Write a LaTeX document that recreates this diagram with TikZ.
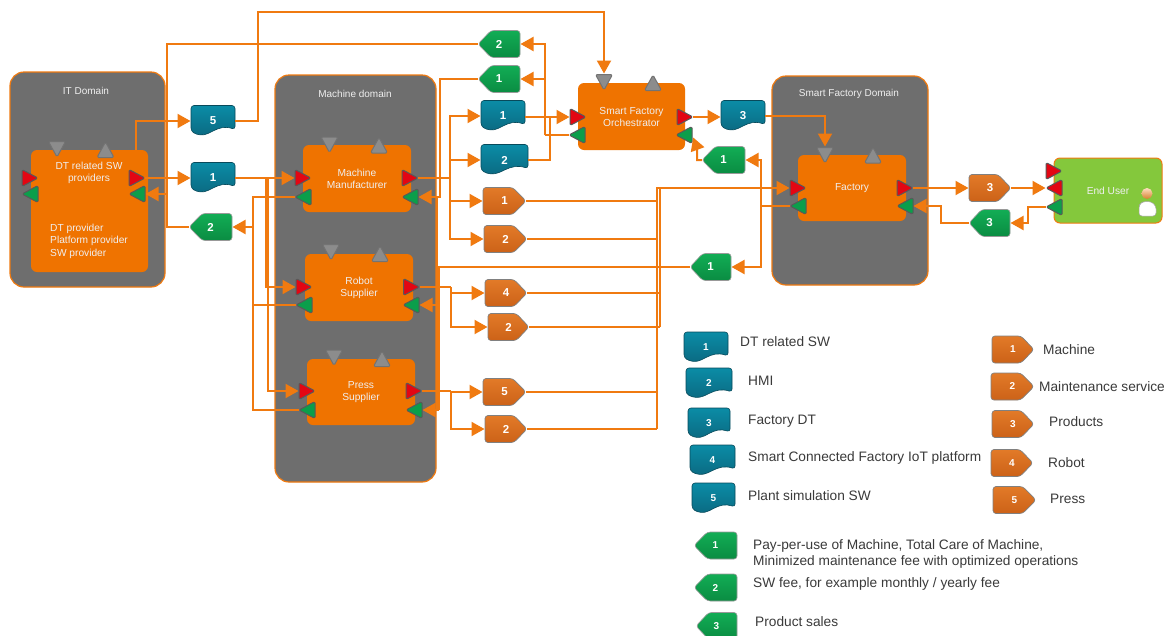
\documentclass[tikz,border=0pt]{standalone}
\usepackage{fontspec}
\setmainfont{Liberation Sans}
\usetikzlibrary{arrows.meta}
\definecolor{wireC}{HTML}{F07A10}
\definecolor{domC}{HTML}{6E6E6E}
\definecolor{boxC}{HTML}{EF7300}
\definecolor{txtC}{HTML}{EFEFEF}
\definecolor{legC}{HTML}{3A3A3A}
\definecolor{euC}{HTML}{84C83C}
\definecolor{triG}{HTML}{0B9E4B}
\definecolor{triR}{HTML}{E30613}
\definecolor{triK}{HTML}{8C8C8C}
\definecolor{tealT}{HTML}{0B8CA6}
\definecolor{tealB}{HTML}{0B6A82}
\definecolor{feeT}{HTML}{12AD55}
\definecolor{feeB}{HTML}{0A8C42}
\definecolor{goT}{HTML}{E27A28}
\definecolor{goB}{HTML}{CC6218}
\tikzset{
  wire/.style={draw=wireC,line width=2pt,line join=miter},
  flow/.style={wire,-{Triangle[length=13pt,width=14pt]},shorten >=0.5pt},
  domainbox/.style={draw=wireC,line width=1.2pt,fill=domC,rounded corners=14pt,inner sep=0pt,outer sep=0pt},
  rolebox/.style={fill=boxC,rounded corners=6pt,inner sep=0pt,outer sep=0pt},
  enduserbox/.style={draw=wireC,line width=1pt,fill=euC,rounded corners=6pt,inner sep=0pt,outer sep=0pt},
  title/.style={text=txtC,font=\fontsize{10}{12}\selectfont,align=center,inner sep=0pt},
  roletext/.style={text=txtC,font=\fontsize{10.2}{12}\selectfont,align=center,inner sep=0pt},
  roleleft/.style={text=txtC,font=\fontsize{10.2}{12.5}\selectfont,align=left,inner sep=0pt,anchor=west},
  legtext/.style={text=legC,font=\fontsize{13.7}{16}\selectfont,align=left,inner sep=0pt,anchor=west},
  numfont/.style={text=white,font=\bfseries\fontsize{11.5}{12}\selectfont},
  anchorbox/.style={inner sep=0pt,outer sep=0pt,minimum width=16pt,minimum height=16pt},
  shapebox/.style={numfont,inner sep=0pt,outer sep=0pt,minimum height=27pt},
  tri/.style={draw=black!65,line width=1pt,rounded corners=1.5pt,line join=round},
  tred/.style={tri,fill=triR},
  tgreen/.style={tri,fill=triG},
  tgrey/.style={tri,draw=black!55,fill=triK},
  docshape/.style={draw=tealB!70!black,line width=.6pt,top color=tealT,bottom color=tealB,rounded corners=3pt},
  feeshape/.style={draw=black!40,line width=.6pt,top color=feeT,bottom color=feeB,rounded corners=3pt},
  goodshape/.style={draw=black!50,line width=.7pt,top color=goT,bottom color=goB,rounded corners=3pt},
}
% name, x, y, width, label
\newcommand{\docnode}[5]{%
  \path[docshape,shift={(#2,#3)},xscale=#4/44]
    (-22,-15.5) -- (22,-15.5) -- (22,8.5)
    .. controls (12,5) and (6,7) .. (-2,11)
    .. controls (-10,15) and (-16,14) .. (-22,10) -- cycle;
  \node[shapebox,minimum width=#4pt] (#1) at (#2,#3) {#5};}
\newcommand{\feenode}[5]{%
  \path[feeshape,shift={(#2,#3)},xscale=#4/42]
    (21,-13.5) -- (-8,-13.5) -- (-21,0) -- (-8,13.5) -- (21,13.5) -- cycle;
  \node[shapebox,minimum width=#4pt] (#1) at (#2,#3) {#5};}
\newcommand{\goodnode}[5]{%
  \path[goodshape,shift={(#2,#3)},xscale=#4/42]
    (-21,-13.5) -- (8,-13.5) -- (21,0) -- (8,13.5) -- (-21,13.5) -- cycle;
  \node[shapebox,minimum width=#4pt] (#1) at (#2,#3) {#5};}
\newcommand{\triRt}[4]{\path[#1,shift={(#3,#4)}] (-8,-8.5) -- (8,0) -- (-8,8.5) -- cycle; \node[anchorbox] (#2) at (#3,#4) {};}
\newcommand{\triLt}[4]{\path[#1,shift={(#3,#4)}] (8,-8.5) -- (-8,0) -- (8,8.5) -- cycle; \node[anchorbox] (#2) at (#3,#4) {};}
\newcommand{\triDn}[3]{\path[tgrey,shift={(#2,#3)}] (-8.5,-7.5) -- (8.5,-7.5) -- (0,8) -- cycle; \node[anchorbox] (#1) at (#2,#3) {};}
\newcommand{\triUp}[3]{\path[tgrey,shift={(#2,#3)}] (-8.5,7.5) -- (8.5,7.5) -- (0,-8) -- cycle; \node[anchorbox] (#1) at (#2,#3) {};}
\begin{document}
\begin{tikzpicture}[x=1pt,y=-1pt]
\useasboundingbox (0,0) rectangle (1167,635);
\clip (0,0) rectangle (1167,635);
\fill[white] (0,0) rectangle (1167,635);

% domains
\node[domainbox,minimum width=155pt,minimum height=215pt] (itdom) at (87.5,179.5) {};
\node[domainbox,minimum width=161pt,minimum height=407pt] (madom) at (355.5,278.5) {};
\node[domainbox,minimum width=156pt,minimum height=209pt] (sfdom) at (850,180.5) {};
\node[title] (itT) at (86,91) {IT Domain};
\node[title] (maT) at (355,94) {Machine domain};
\node[title] (sfT) at (849,94) {Smart Factory Domain};

% role boxes
\node[rolebox,minimum width=117pt,minimum height=122pt] (dtbox) at (89.5,211) {};
\node[roletext] (dtT) at (89,173) {DT related SW\\providers};
\node[roleleft] (dtL) at (50,241) {DT provider\\Platform provider\\SW provider};
\node[rolebox,minimum width=108pt,minimum height=67pt,roletext] (mmbox) at (357,178.5) {Machine\\Manufacturer};
\node[rolebox,minimum width=108pt,minimum height=67pt,roletext] (rsbox) at (359,287.5) {Robot\\Supplier};
\node[rolebox,minimum width=108pt,minimum height=66pt,roletext] (psbox) at (361,392) {Press\\Supplier};
\node[rolebox,minimum width=107pt,minimum height=67pt,roletext] (orbox) at (631.5,116.5) {Smart Factory\\Orchestrator};
\node[rolebox,minimum width=108pt,minimum height=66pt,roletext] (fabox) at (852,188) {Factory};
\node[enduserbox,minimum width=108pt,minimum height=65pt,roletext] (eubox) at (1108,190.5) {End User};

% person icon
\path[fill=white,draw=black!35,line width=.5pt,rounded corners=3pt] (1139,216) -- (1139,205) -- (1143,201.5) -- (1151,201.5) -- (1156,206) -- (1156,216) -- cycle;
\shade[top color=orange!25!white,bottom color=brown!70!orange] (1147,193.5) circle (5.5pt);

% triangles
\triRt{tred}{dtRin}{30}{178}\triLt{tgreen}{dtGin}{30}{194}
\triRt{tred}{dtRout}{137}{178}\triLt{tgreen}{dtGout}{137}{194}
\triDn{dtGD}{57}{149}\triUp{dtGU}{105.5}{150}
\triRt{tred}{mmRin}{303}{178}\triLt{tgreen}{mmGin}{303}{197}
\triRt{tred}{mmRout}{410}{178}\triLt{tgreen}{mmGout}{410}{197}
\triDn{mmGD}{329.5}{144.5}\triUp{mmGU}{379}{145.5}
\triRt{tred}{rsRin}{304}{287}\triLt{tgreen}{rsGin}{304}{305}
\triRt{tred}{rsRout}{411.5}{287}\triLt{tgreen}{rsGout}{411}{305}
\triDn{rsGD}{331}{252}\triUp{rsGU}{380}{254}
\triRt{tred}{psRin}{307}{391}\triLt{tgreen}{psGin}{307}{410}
\triRt{tred}{psRout}{414}{391}\triLt{tgreen}{psGout}{414}{410}
\triDn{psGD}{334}{357.5}\triUp{psGU}{382}{359}
\triRt{tred}{orRin}{578}{117}\triLt{tgreen}{orGin}{577}{135}
\triRt{tred}{orRout}{685}{117}\triLt{tgreen}{orGout}{684}{135}
\triDn{orGD}{604}{82}\triUp{orGU}{653}{83}
\triRt{tred}{faRin}{798}{188}\triLt{tgreen}{faGin}{798}{206}
\triRt{tred}{faRout}{905}{188}\triLt{tgreen}{faGout}{905}{206}
\triDn{faGD}{825}{155}\triUp{faGU}{873}{155.5}
\triRt{tred}{euR}{1054}{171}\triLt{tred}{euL}{1054}{188}\triLt{tgreen}{euG}{1054}{207}

% flow tokens
\docnode{swFive}{213}{121}{44}{5}
\docnode{swOne}{213}{178}{44}{1}
\docnode{swTopA}{503}{116}{44}{1}
\docnode{swTopB}{504.5}{160}{47}{2}
\docnode{swThree}{743}{116}{44}{3}
\feenode{feeTopB}{499}{44}{42}{2}
\feenode{feeTopA}{499}{79}{42}{1}
\feenode{feeRight}{723.5}{160}{43}{1}
\feenode{feeMid}{710.5}{267}{41}{1}
\feenode{feeIt}{210.5}{227}{43}{2}
\feenode{feeEnd}{989.5}{223}{41}{3}
\goodnode{goMa}{504.5}{201}{43}{1}
\goodnode{goSa}{505.5}{239}{43}{2}
\goodnode{goRo}{506}{293}{42}{4}
\goodnode{goSb}{508.5}{327}{41}{2}
\goodnode{goPr}{504.5}{392}{43}{5}
\goodnode{goSc}{506}{429}{42}{2}
\goodnode{goPd}{990}{188}{42}{3}

% junction points
\coordinate (dtTop) at (136,150);
\coordinate (upBus) at (258,12);
\coordinate (jrs) at (266,178);
\coordinate (jps) at (268,178);
\coordinate (gbFee) at (253,227);
\coordinate (gbBot) at (253,410);
\coordinate (trunk) at (167,44);
\coordinate (trunkIn) at (167,194);
\coordinate (ogb) at (545,135);
\coordinate (mb) at (450,178);
\coordinate (swJoin) at (550,117);
\coordinate (rbA) at (440,197);
\coordinate (rbB) at (439,410);
\coordinate (rbT) at (437,197);
\coordinate (rbU) at (437,410);
\coordinate (rsj) at (451,287);
\coordinate (psj) at (451,391);
\coordinate (fj) at (761,206);
\coordinate (orB) at (697,148);
\coordinate (orIn) at (693,137);
\coordinate (obA) at (657,429);
\coordinate (obB) at (660,327);
\coordinate (obT) at (660,188);
\coordinate (euJ) at (1028,223);
\coordinate (faC) at (941,206);

% connectors
\draw[flow] (dtTop) |- (swFive.west);
\draw[flow] (swFive.east) -| (upBus) -| (orGD.north);
\draw[flow] (dtRout.east) -- (dtRout.east -| swOne.west);
\draw[flow] (swOne.east |- mmRin) -- (mmRin.west);
\draw[flow] (jrs) |- (rsRin.west);
\draw[flow] (jps) |- (psRin.west);
\draw[wire] (mmGin.west) -| (gbBot) -- (psGin.west);
\draw[wire] (rsGin.west) -| (gbFee);
\draw[flow] (gbFee) -- (feeIt.east);
\draw[wire] (feeIt.west) -| (trunk) -- (feeTopB.west);
\draw[flow] (trunkIn) -- (dtGout.east);
\draw[wire] (orGin.west) -- (ogb);
\draw[flow] (ogb) |- (feeTopB.east);
\draw[flow] (ogb) |- (feeTopA.east);
\draw[wire] (mmRout.east) -- (mb);
\draw[flow] (mb) |- (swTopA.west);
\draw[flow] (mb) |- (swTopB.west);
\draw[flow] (mb) |- (goMa.west);
\draw[flow] (mb) |- (goSa.west);
\draw[flow] (swTopA.east |- orRin) -- (orRin.west);
\draw[wire] (swTopB.east) -| (swJoin);
\draw[flow] (feeTopA.west) -| (rbA) -- (mmGout.east);
\draw[wire] (feeMid.west) -| (rbB);
\draw[flow] (rbB) -- (psGout.east);
\draw[wire] (rbT) -- (rbU);
\draw[flow] (rbB |- rsGout) -- (rsGout.east);
\draw[wire] (rsRout.east) -- (rsj);
\draw[flow] (rsj) |- (goRo.west);
\draw[flow] (rsj) |- (goSb.west);
\draw[wire] (psRout.east) -- (psj);
\draw[flow] (psj) |- (goPr.west);
\draw[flow] (psj) |- (goSc.west);
\draw[flow] (orRout.east) -- (orRout.east -| swThree.west);
\draw[flow] (swThree.east) -| (faGD.north);
\draw[flow] (feeRight.west) -| (orB) -- (orIn);
\draw[wire] (faGin.west) -- (fj);
\draw[flow] (fj) |- (feeRight.east);
\draw[flow] (fj) |- (feeMid.east);
\draw[flow] (obA) |- (faRin.west);
\draw[wire] (obB) -- (obT);
\draw[wire] (goMa.east) -- (goMa.east -| obA);
\draw[wire] (goSa.east) -- (goSa.east -| obA);
\draw[wire] (goRo.east) -- (goRo.east -| obB);
\draw[wire] (goSb.east) -- (obB);
\draw[wire] (goPr.east) -- (goPr.east -| obA);
\draw[wire] (goSc.east) -- (obA);
\draw[flow] (faRout.east) -- (goPd.west);
\draw[flow] (goPd.east) -- (euL.west);
\draw[flow] (euG.west) -| (euJ) -- (feeEnd.east);
\draw[flow] (feeEnd.west) -| (faC) -- (faGout.east);

% legend
\begin{scope}[numfont/.style={text=white,font=\bfseries\fontsize{10}{11}\selectfont}]
\docnode{lgDa}{706}{347.5}{44}{1}
\docnode{lgDb}{709}{383.5}{46}{2}
\docnode{lgDc}{709}{423.5}{42}{3}
\docnode{lgDd}{712.5}{460.5}{45}{4}
\docnode{lgDe}{713.5}{498.5}{43}{5}
\goodnode{lgGa}{1013}{349.5}{42}{1}
\goodnode{lgGb}{1012.5}{386.5}{43}{2}
\goodnode{lgGc}{1013}{424}{42}{3}
\goodnode{lgGd}{1012}{463}{42}{4}
\goodnode{lgGe}{1014.5}{500}{43}{5}
\feenode{lgFa}{715.5}{545.5}{43}{1}
\feenode{lgFb}{715.5}{587.5}{43}{2}
\feenode{lgFc}{716.5}{626}{41}{3}
\end{scope}
\node[legtext] (ltDa) at (740,342) {DT related SW};
\node[legtext] (ltDb) at (748,381) {HMI};
\node[legtext] (ltDc) at (748,421) {Factory DT};
\node[legtext] (ltDd) at (748,458) {Smart Connected Factory IoT platform};
\node[legtext] (ltDe) at (748,496) {Plant simulation SW};
\node[legtext] (ltGa) at (1043,350) {Machine};
\node[legtext] (ltGb) at (1039,387) {Maintenance service};
\node[legtext] (ltGc) at (1049,422) {Products};
\node[legtext] (ltGd) at (1048,463) {Robot};
\node[legtext] (ltGe) at (1050,499) {Press};
\node[legtext] (ltFa) at (753,554) {Pay-per-use of Machine, Total Care of Machine,\\Minimized maintenance fee with optimized operations};
\node[legtext] (ltFb) at (753,584) {SW fee, for example monthly / yearly fee};
\node[legtext] (ltFc) at (755,622) {Product sales};
\end{tikzpicture}
\end{document}
